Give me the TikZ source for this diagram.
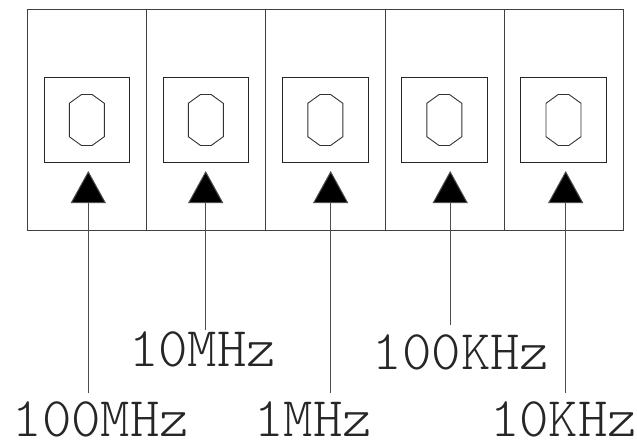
\documentclass[tikz,border=0pt]{standalone}
\usetikzlibrary{arrows.meta}
\begin{document}
\begin{tikzpicture}[x=1pt,y=-1pt,
  panel/.style={draw=black!75,line width=1pt,minimum width=119.3pt,minimum height=221pt,inner sep=0pt},
  knob/.style={draw=black!85,line width=1pt,minimum width=85.5pt,minimum height=85pt,inner sep=0pt},
  octo/.style={draw=black!80,line width=0.9pt},
  pointer/.style={draw=black!70,line width=1pt,-{Triangle[length=32pt,width=35pt,fill=black]}},
  lbl/.style={font=\fontsize{56}{60}\fontseries{l}\ttfamily,anchor=base,inner sep=0pt,text depth=0pt,text=black!85}]
\useasboundingbox (0,0) rectangle (637,439);
% panels
\node[panel] (p1) at (86.75,120) {};
\node[panel] (p2) at (206.05,120) {};
\node[panel] (p3) at (325.35,120) {};
\node[panel] (p4) at (444.65,120) {};
\node[panel] (p5) at (563.95,120) {};
% knob frames
\node[knob] (k1) at (86.8,120) {};
\node[knob] (k2) at (205.8,120) {};
\node[knob] (k3) at (325.3,120) {};
\node[knob] (k4) at (444.3,120) {};
\node[knob] (k5) at (563.5,120) {};
% octagon digits
\foreach \k in {k1,k2,k3,k4,k5}{
  \draw[octo] ([shift={(-17.5,-16.7)}]\k.center) -- ([shift={(-5.3,-25.5)}]\k.center)
    -- ([shift={(5.3,-25.5)}]\k.center) -- ([shift={(17.5,-16.7)}]\k.center)
    -- ([shift={(17.5,16.7)}]\k.center) -- ([shift={(5.3,25.5)}]\k.center)
    -- ([shift={(-5.3,25.5)}]\k.center) -- ([shift={(-17.5,16.7)}]\k.center) -- cycle;
}
% pointer tips and ends
\coordinate (t1) at (88.3,171);
\coordinate (t2) at (205.7,171);
\coordinate (t3) at (330.7,171);
\coordinate (t4) at (450.2,171);
\coordinate (t5) at (565.7,171);
\coordinate (e1) at (88.3,392.7);
\coordinate (e2) at (205.7,330);
\coordinate (e3) at (330.7,392.7);
\coordinate (e4) at (450.2,325);
\coordinate (e5) at (565.7,392.7);
\foreach \i in {1,...,5}{\draw[pointer] (e\i) -- (t\i);}
% labels
\node[lbl] (l1) at (101,436.5) {100MHz};
\node[lbl] (l2) at (202.5,366) {10MHz};
\node[lbl] (l3) at (313,436.5) {1MHz};
\node[lbl] (l4) at (461,369.3) {100KHz};
\node[lbl] (l5) at (563.5,436.5) {10KHz};
\end{tikzpicture}
\end{document}
